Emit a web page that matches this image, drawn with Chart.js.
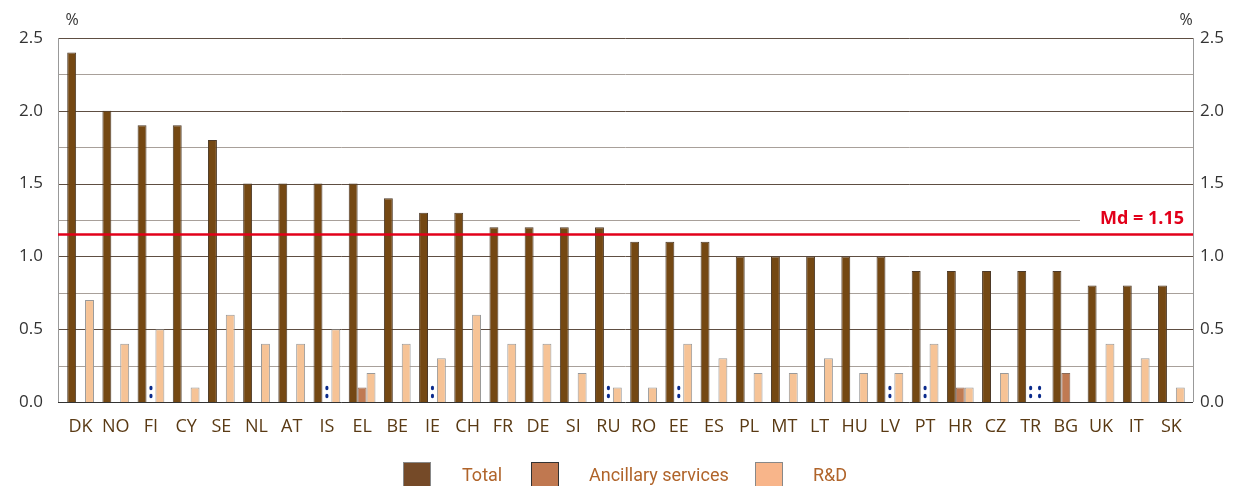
<!DOCTYPE html>
<html>
<head>
<meta charset="utf-8">
<script src="https://cdn.jsdelivr.net/npm/chart.js@4"></script>
<style>
  html, body { margin: 0; padding: 0; background: #fff; }
  #wrap { width: 1233px; height: 486px; position: relative; }
</style>
</head>
<body>
<div id="wrap"><canvas id="myChart"></canvas></div>
<script>
// --- DADOS ---
const countries = ['DK','NO','FI','CY','SE','NL','AT','IS','EL','BE','IE','CH','FR','DE','SI','RU','RO','EE','ES','PL','MT','LT','HU','LV','PT','HR','CZ','TR','BG','UK','IT','SK'];
const total     = [2.4,2.0,1.9,1.9,1.8,1.5,1.5,1.5,1.5,1.4,1.3,1.3,1.2,1.2,1.2,1.2,1.1,1.1,1.1,1.0,1.0,1.0,1.0,1.0,0.9,0.9,0.9,0.9,0.9,0.8,0.8,0.8];
// null = not available (":")
const ancillary = [0,0,null,0,0,0,0,null,0.1,0,null,0,0,0,0,null,0,null,0,0,0,0,0,null,null,0.1,0,null,0.2,0,0,0];
const rnd       = [0.7,0.4,0.5,0.1,0.6,0.4,0.4,0.5,0.2,0.4,0.3,0.6,0.4,0.4,0.2,0.1,0.1,0.4,0.3,0.2,0.2,0.3,0.2,0.2,0.4,0.1,0.2,null,0,0.4,0.3,0.1];
const median = 1.15;
const yTicks = [0, 0.5, 1.0, 1.5, 2.0, 2.5];
const gridSteps = [0,0.25,0.5,0.75,1,1.25,1.5,1.75,2,2.25,2.5];

const FONT = "'Open Sans', 'Noto Sans', sans-serif";
const NARROW = "'Roboto', sans-serif";

// moldura fixa do gráfico (como no original)
const FRAME_L = 58, FRAME_R = 1193;

const extras = {
  id: 'extras',
  beforeDatasetsDraw(chart) {
    const { ctx, scales } = chart;
    ctx.save();
    gridSteps.forEach(v => {
      const y = Math.round(scales.y.getPixelForValue(v)) + 0.5;
      const major = Math.round(v * 100) % 50 === 0;
      ctx.strokeStyle = v === 0 ? '#333' : (major ? '#5e4e42' : '#a8a09a');
      ctx.lineWidth = 1;
      ctx.beginPath();
      ctx.moveTo(FRAME_L, y);
      ctx.lineTo(v === 1.25 ? 1080 : FRAME_R, y);
      ctx.stroke();
    });
    const top = Math.round(scales.y.getPixelForValue(2.5));
    const bot = Math.round(scales.y.getPixelForValue(0));
    ctx.strokeStyle = '#999';
    ctx.beginPath();
    ctx.moveTo(FRAME_L + 0.5, top); ctx.lineTo(FRAME_L + 0.5, bot);
    ctx.moveTo(FRAME_R + 0.5, top); ctx.lineTo(FRAME_R + 0.5, bot);
    ctx.stroke();
    ctx.restore();
  },
  afterDatasetsDraw(chart) {
    const { ctx, scales } = chart;
    const y = scales.y.getPixelForValue(median);
    ctx.save();
    ctx.strokeStyle = '#e2001a';
    ctx.lineWidth = 2.5;
    ctx.beginPath();
    ctx.moveTo(FRAME_L, y);
    ctx.lineTo(FRAME_R, y);
    ctx.stroke();

    ctx.fillStyle = '#e2001a';
    ctx.font = "bold 18px " + FONT;
    ctx.textAlign = 'right';
    ctx.textBaseline = 'middle';
    ctx.fillText('Md = 1.15', FRAME_R - 9, scales.y.getPixelForValue(1.25) - 1);

    // marcadores ":" para dados indisponíveis
    const base = scales.y.getPixelForValue(0);
    ctx.fillStyle = '#0a2a8c';
    [1, 2].forEach(di => {
      const meta = chart.getDatasetMeta(di);
      chart.data.datasets[di].data.forEach((v, i) => {
        if (v !== null) return;
        const x = meta.data[i].x;
        [14, 6].forEach(dy => {
          ctx.beginPath();
          ctx.ellipse(x, base - dy, 1.6, 2.3, 0, 0, Math.PI * 2);
          ctx.fill();
        });
      });
    });

    // % nos eixos
    ctx.fillStyle = '#333';
    ctx.font = "16px " + FONT;
    ctx.textAlign = 'center';
    ctx.textBaseline = 'alphabetic';
    ctx.fillText('%', 72, 25);
    ctx.fillText('%', 1186, 25);

    // legenda
    const items = [
      { label: 'Total', color: '#754a28', border: '#888', bx: 403, tx: 462 },
      { label: 'Ancillary services', color: '#c07850', border: '#333', bx: 531, tx: 589 },
      { label: 'R&D', color: '#f8b58a', border: '#888', bx: 755, tx: 813 }
    ];
    ctx.font = "18px " + NARROW;
    ctx.textAlign = 'left';
    ctx.textBaseline = 'middle';
    items.forEach(it => {
      ctx.fillStyle = it.color;
      ctx.fillRect(it.bx, 462, 28, 28);
      ctx.strokeStyle = it.border;
      ctx.lineWidth = 1;
      ctx.strokeRect(it.bx + 0.5, 462.5, 27, 28);
      ctx.fillStyle = '#b0642a';
      ctx.fillText(it.label, it.tx, 476);
    });
    ctx.restore();
  }
};

new Chart(document.getElementById('myChart'), {
  type: 'bar',
  data: {
    labels: countries,
    datasets: [
      { label: 'Total', data: total, backgroundColor: '#744813', borderColor: '#4d3a28', borderWidth: 1 },
      { label: 'Ancillary services', data: ancillary, backgroundColor: '#c07a52', borderColor: '#8a6a58', borderWidth: 1 },
      { label: 'R&D', data: rnd, backgroundColor: '#f6c396', borderColor: '#999', borderWidth: 1 }
    ]
  },
  options: {
    responsive: true,
    maintainAspectRatio: false,
    animation: false,
    datasets: { bar: { categoryPercentage: 0.76, barPercentage: 1.0 } },
    layout: { padding: { top: 38, bottom: 0, left: 0, right: 0 } },
    plugins: { legend: { display: false }, tooltip: { enabled: false } },
    scales: {
      x: {
        grid: { display: false },
        border: { display: false },
        ticks: { color: '#5a3a14', font: { family: FONT, size: 18 }, padding: 6, maxRotation: 0, autoSkip: false },
        afterFit(s) { s.height = 84; }
      },
      y: {
        min: 0, max: 2.5,
        afterBuildTicks(s) { s.ticks = gridSteps.map(v => ({ value: v })); },
        ticks: {
          color: '#333', font: { family: FONT, size: 17 }, padding: 20,
          callback: v => yTicks.includes(v) ? v.toFixed(1) : ''
        },
        grid: { display: false, drawTicks: false },
        border: { display: false },
        afterFit(s) { s.width = 63; }
      },
      y2: {
        position: 'right',
        min: 0, max: 2.5,
        afterBuildTicks(s) { s.ticks = gridSteps.map(v => ({ value: v })); },
        ticks: {
          color: '#333', font: { family: FONT, size: 17 }, padding: 11,
          callback: v => yTicks.includes(v) ? v.toFixed(1) : ''
        },
        grid: { display: false, drawTicks: false },
        border: { display: false },
        afterFit(s) { s.width = 44; }
      }
    }
  },
  plugins: [extras]
});
</script>
</body>
</html>
